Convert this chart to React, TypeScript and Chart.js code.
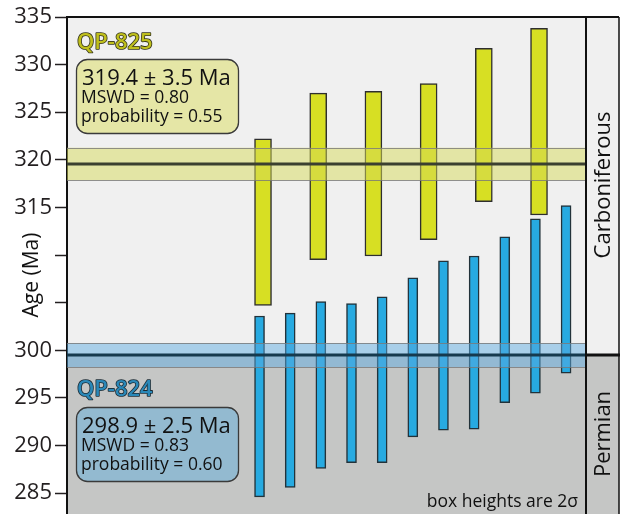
import React, { useEffect, useRef } from 'react';
import { Chart, registerables } from 'chart.js';

Chart.register(...registerables);

// ---- data ----
const yTicks = [285, 290, 295, 300, 305, 310, 315, 320, 325, 330, 335];
const hiddenTickLabels = [305, 310];
const qp825Low = [304.7, 309.5, 309.9, 311.6, 315.6, 314.2];
const qp825High = [322.2, 327.0, 327.2, 328.0, 331.7, 333.8];
const qp824Low = [284.6, 285.6, 287.6, 288.2, 288.2, 290.9, 291.6, 291.7, 294.5, 295.5, 297.6];
const qp824High = [303.6, 303.9, 305.1, 304.9, 305.6, 307.6, 309.4, 309.9, 311.9, 313.8, 315.2];
const qp825Mean = 319.56;
const qp825BandLow = 317.85;
const qp825BandHigh = 321.27;
const qp824Mean = 299.5;
const qp824BandLow = 298.24;
const qp824BandHigh = 300.76;
const periodBoundary = 299.5;
const qp825Lines = ['319.4 ± 3.5 Ma', 'MSWD = 0.80', 'probability = 0.55'];
const qp824Lines = ['298.9 ± 2.5 Ma', 'MSWD = 0.83', 'probability = 0.60'];
const periods = ['Carboniferous', 'Permian'];

const FONT = '"Open Sans", "Noto Sans", sans-serif';
const LIGHT_BG = '#f0f0f0';
const DARK_BG = '#c5c6c5';

const overlay = {
  id: 'overlay',
  beforeDraw(chart: any) {
    const { ctx, chartArea: ca, scales } = chart;
    const y = scales.y;
    const yb = y.getPixelForValue(periodBoundary);
    const W = chart.width;
    const H = chart.height;
    ctx.save();
    ctx.fillStyle = '#ffffff';
    ctx.fillRect(0, 0, W, H);
    ctx.fillStyle = LIGHT_BG;
    ctx.fillRect(ca.left, ca.top, W - 5 - ca.left, yb - ca.top);
    ctx.fillStyle = DARK_BG;
    ctx.fillRect(ca.left, yb, W - 5 - ca.left, ca.bottom - yb);
    ctx.restore();
  },
  afterDatasetsDraw(chart: any) {
    const { ctx, chartArea: ca, scales } = chart;
    const y = scales.y;
    const band = (lo: number, hi: number, fill: string) => {
      const t = y.getPixelForValue(hi);
      const b = y.getPixelForValue(lo);
      ctx.fillStyle = fill;
      ctx.fillRect(ca.left, t, ca.right - ca.left, b - t);
      ctx.strokeStyle = 'rgba(120,120,120,0.8)';
      ctx.lineWidth = 1;
      ctx.beginPath();
      ctx.moveTo(ca.left, Math.round(t) + 0.5);
      ctx.lineTo(ca.right, Math.round(t) + 0.5);
      ctx.moveTo(ca.left, Math.round(b) + 0.5);
      ctx.lineTo(ca.right, Math.round(b) + 0.5);
      ctx.stroke();
    };
    const line = (v: number, color: string) => {
      const p = y.getPixelForValue(v);
      ctx.strokeStyle = color;
      ctx.lineWidth = 3;
      ctx.beginPath();
      ctx.moveTo(ca.left, p);
      ctx.lineTo(ca.right, p);
      ctx.stroke();
    };
    ctx.save();
    band(qp825BandLow, qp825BandHigh, 'rgba(214,218,90,0.5)');
    line(qp825Mean, '#3b4030');
    band(qp824BandLow, qp824BandHigh, 'rgba(92,171,225,0.48)');
    line(qp824Mean, '#163a4e');
    ctx.restore();
  },
  afterDraw(chart: any) {
    const { ctx, chartArea: ca, scales } = chart;
    const y = scales.y;
    const W = chart.width;
    const yb = y.getPixelForValue(periodBoundary);
    const panelRight = W - 5;
    ctx.save();
    // frame
    ctx.strokeStyle = '#111';
    ctx.lineWidth = 2;
    ctx.beginPath();
    ctx.moveTo(ca.left, ca.top);
    ctx.lineTo(panelRight, ca.top);
    ctx.moveTo(ca.right, ca.top);
    ctx.lineTo(ca.right, ca.bottom);
    ctx.stroke();
    ctx.lineWidth = 1.5;
    ctx.beginPath();
    ctx.moveTo(panelRight, ca.top);
    ctx.lineTo(panelRight, ca.bottom);
    ctx.stroke();
    ctx.lineWidth = 3;
    ctx.beginPath();
    ctx.moveTo(ca.right, yb);
    ctx.lineTo(panelRight + 1, yb);
    ctx.stroke();

    // period labels
    ctx.fillStyle = '#111';
    ctx.font = `22px ${FONT}`;
    ctx.textAlign = 'center';
    ctx.textBaseline = 'middle';
    const px = (ca.right + panelRight) / 2 + 1;
    ctx.save();
    ctx.translate(px, 185);
    ctx.rotate(-Math.PI / 2);
    ctx.fillText(periods[0], 0, 0);
    ctx.restore();
    ctx.save();
    ctx.translate(px, 434);
    ctx.rotate(-Math.PI / 2);
    ctx.fillText(periods[1], 0, 0);
    ctx.restore();

    // axis title over the hidden tick labels
    ctx.save();
    ctx.translate(32, 275);
    ctx.rotate(-Math.PI / 2);
    ctx.font = `21px ${FONT}`;
    ctx.fillStyle = '#111';
    ctx.fillText('Age (Ma)', 0, 0);
    ctx.restore();

    // sample boxes
    const drawSample = (name: string, lines: string[], top: number, titleBase: number, fillTitle: string, strokeTitle: string, boxFill: string) => {
      ctx.textAlign = 'left';
      ctx.textBaseline = 'alphabetic';
      ctx.font = `600 22px ${FONT}`;
      ctx.lineJoin = 'round';
      ctx.lineWidth = 1.6;
      ctx.strokeStyle = strokeTitle;
      ctx.strokeText(name, 77, titleBase);
      ctx.fillStyle = fillTitle;
      ctx.fillText(name, 77, titleBase);

      ctx.beginPath();
      ctx.roundRect(76.5, top + 0.5, 162, 74, 11);
      ctx.fillStyle = boxFill;
      ctx.fill();
      ctx.lineWidth = 1.3;
      ctx.strokeStyle = '#3a3a3a';
      ctx.stroke();

      ctx.fillStyle = '#111';
      ctx.font = `22px ${FONT}`;
      ctx.fillText(lines[0], 82, top + 26);
      ctx.font = `17.5px ${FONT}`;
      ctx.fillText(lines[1], 81, top + 44);
      ctx.fillText(lines[2], 81, top + 63);
    };
    drawSample('QP-825', qp825Lines, 59, 49, '#bfbf1c', '#34341e', '#e5e6a6');
    drawSample('QP-824', qp824Lines, 407, 396, '#2a88b8', '#1b2a33', '#93bad0');

    ctx.fillStyle = '#111';
    ctx.font = `17.5px ${FONT}`;
    ctx.textAlign = 'right';
    ctx.fillText('box heights are 2σ', 578, 507);
    ctx.restore();
  },
};

export default function App() {
  const ref = useRef<HTMLCanvasElement>(null);
  useEffect(() => {
    if (!ref.current) return;
    const chart = new Chart(ref.current, {
      type: 'bar',
      data: {
        datasets: [
          {
            label: 'QP-825',
            data: qp825Low.map((lo, i) => ({ x: i, y: [lo, qp825High[i]] })) as any,
            xAxisID: 'xY',
            yAxisID: 'y',
            backgroundColor: '#d7df23',
            borderColor: '#2e2e2e',
            borderWidth: 1.5,
            borderSkipped: false,
            barThickness: 17,
            grouped: false,
          } as any,
          {
            label: 'QP-824',
            data: qp824Low.map((lo, i) => ({ x: i, y: [lo, qp824High[i]] })) as any,
            xAxisID: 'xB',
            yAxisID: 'y',
            backgroundColor: '#27aae1',
            borderColor: '#22323a',
            borderWidth: 1.5,
            borderSkipped: false,
            barThickness: 10,
            grouped: false,
          } as any,
        ],
      },
      options: {
        animation: false,
        responsive: false,
        maintainAspectRatio: false,
        layout: { padding: { top: 17, right: 38, bottom: 0, left: 0 } },
        plugins: { legend: { display: false }, tooltip: { enabled: false } },
        scales: {
          xY: { type: 'linear', display: false, offset: false, grid: { offset: false }, min: -3.551, max: 5.851 },
          xB: { type: 'linear', display: false, offset: false, grid: { offset: false }, min: -6.281, max: 10.65 },
          y: {
            type: 'linear',
            position: 'left',
            min: 282.8,
            max: 335,
            afterBuildTicks: (s: any) => {
              s.ticks = yTicks.map((v) => ({ value: v }));
            },
            afterFit: (s: any) => {
              s.width = 67;
              s.paddingTop = 0;
              s.paddingBottom = 0;
            },
            ticks: {
              callback: (v: any) => (hiddenTickLabels.includes(Number(v)) ? '' : String(v)),
              font: { family: FONT, size: 22 },
              color: '#231f20',
              padding: 3,
            },
            grid: {
              drawOnChartArea: false,
              drawTicks: true,
              tickLength: 12,
              tickColor: '#231f20',
              tickWidth: 1.5,
            },
            border: { display: true, color: '#111', width: 2 },
          },
        },
      } as any,
      plugins: [overlay],
    });
    return () => chart.destroy();
  }, []);
  return (
    <div style={{ position: 'fixed', left: 0, top: 0, width: 624, height: 514, background: '#fff' }}>
      <canvas ref={ref} width={624} height={514} style={{ display: 'block' }} />
    </div>
  );
}
